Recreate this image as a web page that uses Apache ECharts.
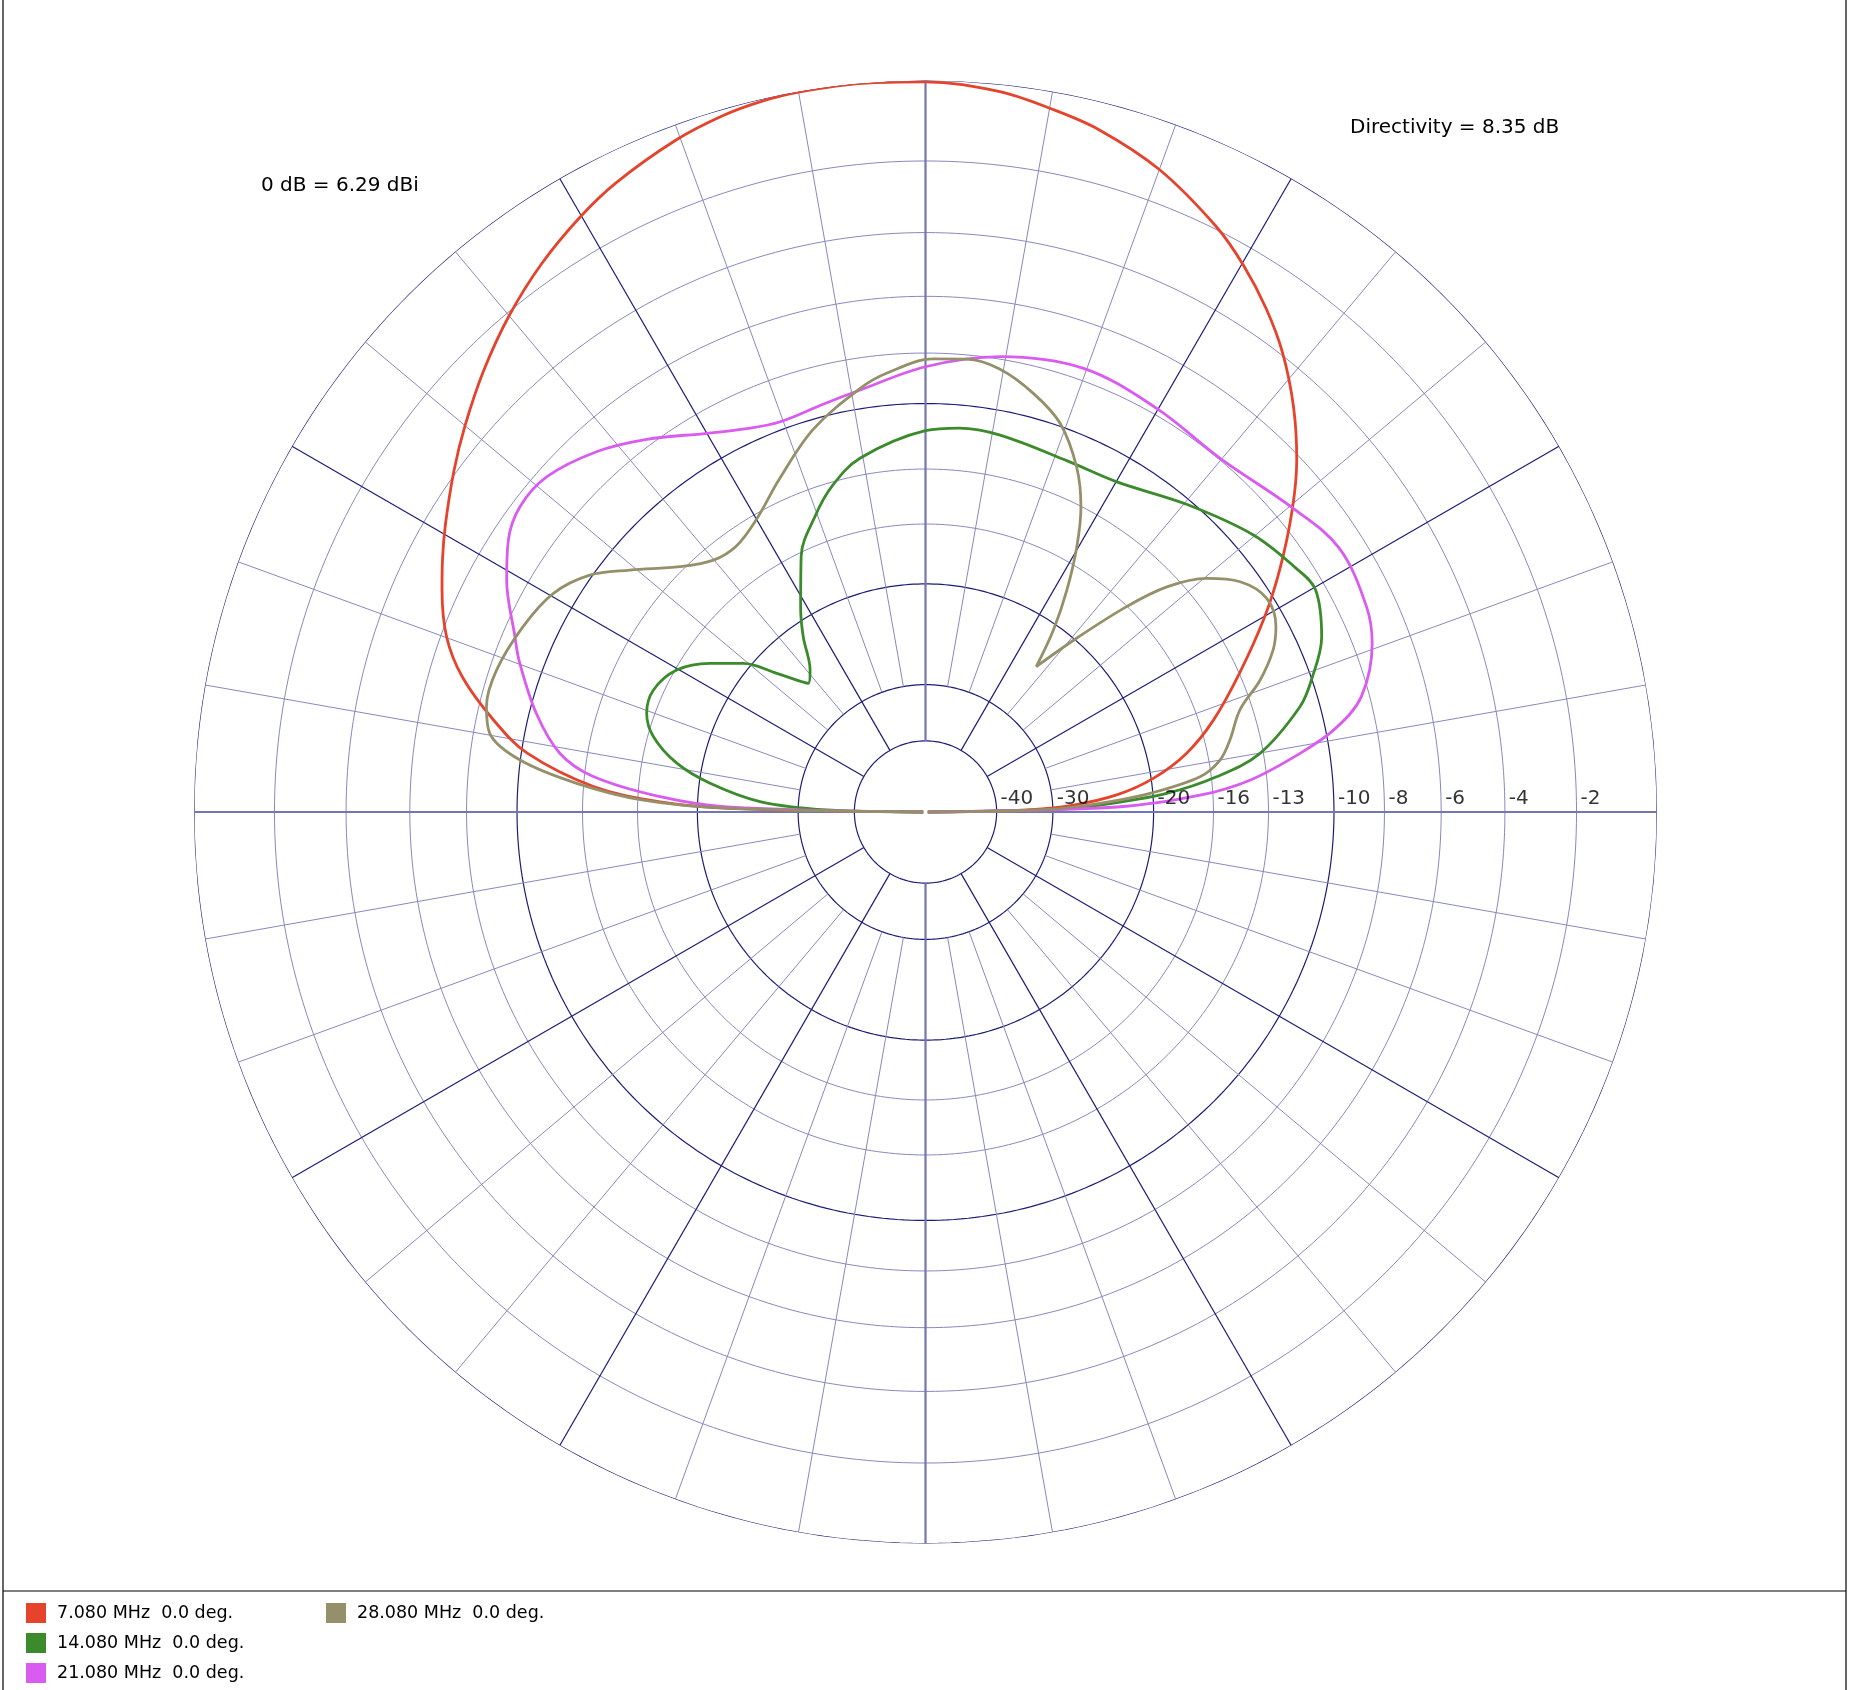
<!DOCTYPE html>
<html>
<head>
<meta charset="utf-8">
<script src="https://cdn.jsdelivr.net/npm/echarts@6/dist/echarts.min.js"></script>
<style>
html,body{margin:0;padding:0;background:#fff;}
#chart{width:1850px;height:1690px;}
</style>
</head>
<body>
<div id="chart"></div>
<script>
// ---- data (elevation angle in degrees, gain in dB relative to 0 dB = 6.29 dBi) ----
const seriesNames = ['7.080 MHz  0.0 deg.', '14.080 MHz  0.0 deg.', '21.080 MHz  0.0 deg.', '28.080 MHz  0.0 deg.'];
const seriesColors = ['#e5432b', '#3b8a2b', '#d95bf0', '#94906a'];

const redAngles = [0, 1.2, 2.7, 5.1, 8.4, 12.7, 17.7, 23.8, 29.8, 34.5, 39.5, 43.5, 47.7, 52.1, 55.9, 59.8, 63.6, 70.0, 75.7, 80.0, 84.2, 90, 95, 100, 103, 106.2, 110.4, 116.1, 120.1, 125, 130, 135, 140, 144.1, 149.1, 152.4, 155.3, 160, 163.8, 168, 171.6, 175.6, 177.8, 179, 180];
const redDb = [-99, -34, -27.4, -22.96, -19.84, -17.25, -15.17, -13.0, -10.78, -9.11, -7.4, -6.13, -4.99, -3.94, -3.18, -2.5, -1.93, -1.16, -0.66, -0.4, -0.17, -0.03, 0, -0.01, -0.05, -0.146, -0.35, -0.72, -1.05, -1.525, -2.085, -2.71, -3.37, -3.92, -4.6, -5.05, -5.46, -6.21, -7.16, -8.67, -10.25, -13.5, -17.38, -23, -99];

const greenAngles = [0, 1.0, 2.3, 4.43, 6.9, 9.95, 15.7, 19, 23.8, 29.7, 33.5, 40.2, 49.6, 59.9, 68.0, 78.8, 85, 90, 100.5, 106, 110.4, 115.9, 121.5, 124.9, 129.1, 132.3, 137, 140.8, 145.4, 150.3, 155.9, 160.5, 164.5, 168.9, 172.4, 176.4, 178.8, 180];
const greenDb = [-99, -31, -24.6, -18.99, -15.69, -13.17, -10.84, -10.0, -9.0, -8.38, -8.6, -9.15, -10.2, -11.17, -11.3, -11.05, -11.0, -11.18, -12.18, -13.2, -14.4, -16.2, -19.2, -21.12, -23.78, -24.64, -21.97, -19.48, -17.64, -16.09, -15.4, -15.54, -16.33, -18.19, -20.83, -25.47, -34.4, -99];

const magentaAngles = [0, 1.5, 3.5, 5.6, 8.9, 11.5, 14.85, 20.7, 25, 32.5, 39.5, 50.2, 60.2, 70.4, 80.7, 90, 98.8, 104, 110.4, 115, 120, 126.8, 132.4, 138.5, 143, 146.9, 151, 156.9, 159.7, 165.8, 170.9, 173.9, 176.7, 178.5, 180];
const magentaDb = [-99, -23, -16.79, -13.87, -11.28, -9.6, -8.3, -7.32, -7.0, -6.85, -7.34, -7.95, -7.77, -7.56, -7.91, -8.52, -9.24, -9.5, -9.67, -9.4, -8.83, -7.76, -6.95, -6.33, -6.27, -6.6, -7.27, -8.48, -9.0, -10.3, -11.69, -13.45, -17.37, -22.35, -99];

const grayAngles = [0, 1.24, 2.85, 4.76, 7.33, 10, 13.3, 18, 21.5, 25, 27.9, 32.05, 36.2, 39.7, 43, 45.6, 49, 52.7, 54.9, 57.5, 60.3, 63.0, 66.3, 70.9, 75.6, 80.5, 84.8, 89, 95, 98.8, 106.4, 113.7, 120, 125.4, 130.1, 135, 140.7, 144.8, 149.6, 155.3, 161.7, 166.5, 169.8, 172.7, 175.3, 177.6, 178.9, 180];
const grayDb = [-99, -30.4, -24.6, -20.2, -16.68, -15.35, -14.58, -13.63, -12.19, -11.08, -10.51, -10.25, -10.8, -11.9, -13.66, -16.03, -19.84, -23.8, -20.43, -17.55, -14.99, -13.03, -11.41, -9.88, -9.02, -8.37, -8.16, -8.22, -8.7, -9.18, -10.42, -12.0, -13.25, -13.85, -13.7, -12.8, -11.15, -9.9, -9.05, -8.6, -8.27, -8.28, -8.62, -9.99, -12.65, -16.33, -22.36, -99];

// grid rings (dB) and ring labels
const ringDb = [0, -2, -4, -6, -8, -10, -13, -16, -20, -30, -40];
const majorRingDb = [0, -10, -20, -30, -40];
const tickDb = [-40, -30, -20, -16, -13, -10, -8, -6, -4, -2];
const tickLabels = ['-40', '-30', '-20', '-16', '-13', '-10', '-8', '-6', '-4', '-2'];

const refText = '0 dB = 6.29 dBi';
const dirText = 'Directivity = 8.35 dB';

// ---- ARRL log scale: radius fraction = 0.89^(dB down / 2) ----
function arrl(db) { return Math.pow(0.89, -db / 2); }

const DARK = '#1c1c78', THIN = '#8888bd', AXIS = '#7275b6';
const series = [];

// rings
ringDb.forEach(function (db) {
  const pts = [];
  for (let a = 0; a <= 360; a += 1) pts.push([arrl(db), a]);
  const major = majorRingDb.indexOf(db) >= 0;
  series.push({
    type: 'line', coordinateSystem: 'polar', data: pts, symbol: 'none', silent: true, z: 1, clip: false,
    lineStyle: { color: major ? DARK : THIN, width: major ? 1.2 : 1 }
  });
});

// spokes
for (let a = 0; a < 360; a += 10) {
  let inner, color, width;
  if (a % 90 === 0) { inner = arrl(-40); color = AXIS; width = 2.2; }
  else if (a % 30 === 0) { inner = arrl(-40); color = DARK; width = 1.2; }
  else { inner = arrl(-30); color = THIN; width = 1; }
  series.push({
    type: 'line', coordinateSystem: 'polar', data: [[inner, a], [1, a]], symbol: 'none', silent: true, z: 1, clip: false,
    lineStyle: { color: color, width: width }
  });
}

// ring labels
series.push({
  type: 'scatter', coordinateSystem: 'polar', silent: true, z: 5, symbolSize: 0.1, clip: false,
  itemStyle: { color: 'transparent' },
  data: tickDb.map(function (db, i) {
    return { value: [arrl(db), 0], label: { formatter: tickLabels[i] } };
  }),
  label: {
    show: true, position: [4, -3], align: 'left', verticalAlign: 'bottom',
    fontFamily: 'DejaVu Sans', fontSize: 20, color: '#000'
  }
});

// pattern curves
const patterns = [
  [redAngles, redDb], [greenAngles, greenDb], [magentaAngles, magentaDb], [grayAngles, grayDb]
];
patterns.forEach(function (p, i) {
  series.push({
    name: seriesNames[i], type: 'line', coordinateSystem: 'polar', symbol: 'none', smooth: 0.35, z: 3, clip: false,
    data: p[0].map(function (a, k) { return [arrl(p[1][k]), a]; }),
    itemStyle: { color: seriesColors[i] },
    lineStyle: { color: seriesColors[i], width: 2.8 }
  });
});

const chart = echarts.init(document.getElementById('chart'), null, { renderer: 'canvas' });
const legendText = { fontFamily: 'DejaVu Sans', fontSize: 17.5, color: '#000', padding: [0, 0, 0, 6] };
chart.setOption({
  animation: false,
  backgroundColor: '#fff',
  polar: { center: [925.5, 812], radius: 731.5 },
  angleAxis: { type: 'value', min: 0, max: 360, startAngle: 0, clockwise: false, show: false,
    axisLine: { show: false }, splitLine: { show: false }, axisLabel: { show: false }, axisTick: { show: false } },
  radiusAxis: { type: 'value', min: 0, max: 1, show: false,
    axisLine: { show: false }, splitLine: { show: false }, axisLabel: { show: false }, axisTick: { show: false } },
  legend: [
    { data: seriesNames.slice(0, 3), orient: 'vertical', left: 26, top: 1603, itemWidth: 20, itemHeight: 20,
      itemGap: 10, icon: 'rect', selectedMode: false, padding: 0, textStyle: legendText },
    { data: seriesNames.slice(3), orient: 'vertical', left: 326, top: 1603, itemWidth: 20, itemHeight: 20,
      itemGap: 10, icon: 'rect', selectedMode: false, padding: 0, textStyle: legendText }
  ],
  graphic: [
    { type: 'line', shape: { x1: 3, y1: 0, x2: 3, y2: 1690 }, style: { stroke: '#000', lineWidth: 1.2 }, silent: true },
    { type: 'line', shape: { x1: 1846, y1: 0, x2: 1846, y2: 1690 }, style: { stroke: '#000', lineWidth: 1.2 }, silent: true },
    { type: 'line', shape: { x1: 3, y1: 1591, x2: 1846, y2: 1591 }, style: { stroke: '#000', lineWidth: 1.2 }, silent: true },
    { type: 'text', left: 261, top: 176, style: { text: refText, font: '20px "DejaVu Sans"', fill: '#000' }, silent: true },
    { type: 'text', left: 1350, top: 118, style: { text: dirText, font: '20px "DejaVu Sans"', fill: '#000' }, silent: true }
  ],
  series: series
});
</script>
</body>
</html>
